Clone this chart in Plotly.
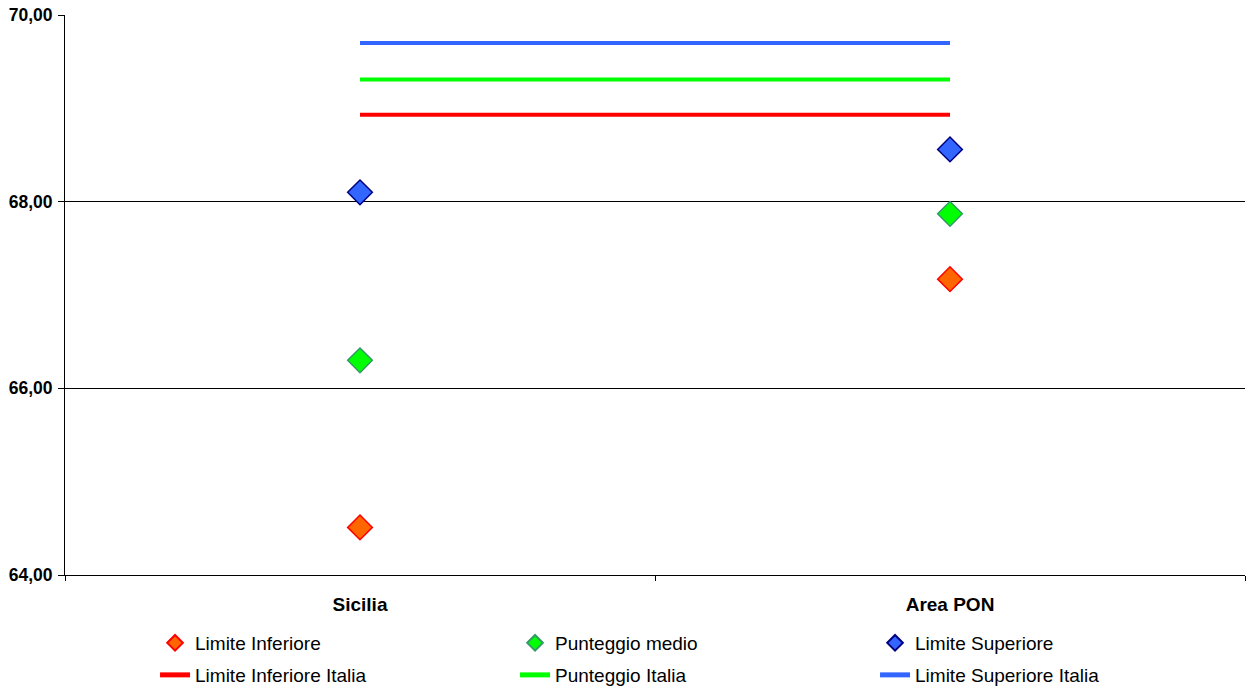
import plotly.graph_objects as go

categories = ["Sicilia", "Area PON"]
limite_inferiore = [64.51, 67.17]
punteggio_medio = [66.30, 67.87]
limite_superiore = [68.10, 68.56]
limite_inferiore_italia = [68.93, 68.93]
punteggio_italia = [69.31, 69.31]
limite_superiore_italia = [69.70, 69.70]
y_ticks = [64, 66, 68, 70]

FONT = "Liberation Sans, Arial, sans-serif"

fig = go.Figure()

def pts(name, vals, fill, border):
    fig.add_trace(go.Scatter(
        x=categories, y=vals, name=name, mode="markers", legend="legend",
        marker=dict(symbol="diamond", size=19, color=fill,
                    line=dict(color=border, width=1.5)),
    ))

def hline(name, vals, color):
    fig.add_trace(go.Scatter(
        x=categories, y=vals, name=name, mode="lines", legend="legend2",
        line=dict(color=color, width=4),
    ))

pts("Limite Inferiore", limite_inferiore, "#FF6600", "#FF0000")
pts("Punteggio medio", punteggio_medio, "#00FF00", "#339966")
pts("Limite Superiore", limite_superiore, "#3366FF", "#000080")
hline("Limite Inferiore Italia", limite_inferiore_italia, "#FF0000")
hline("Punteggio Italia", punteggio_italia, "#00FF00")
hline("Limite Superiore Italia", limite_superiore_italia, "#3366FF")

leg_common = dict(
    orientation="h", x=0.0763, xanchor="left", yanchor="middle",
    entrywidth=315, entrywidthmode="pixels",
    itemsizing="constant", font=dict(size=19, family=FONT, color="black"),
    bgcolor="rgba(0,0,0,0)", traceorder="normal",
)

fig.update_layout(
    width=1247, height=688,
    margin=dict(l=65, r=2, t=15, b=113, autoexpand=False),
    paper_bgcolor="white", plot_bgcolor="white",
    separators=",.",
    font=dict(family=FONT, color="black", size=19),
    showlegend=True,
    legend=dict(leg_common, y=-0.1214),
    legend2=dict(leg_common, y=-0.1786),
    xaxis=dict(
        type="category", range=[-0.5, 1.5], showgrid=False,
        showline=True, linecolor="black", linewidth=1,
        ticks="outside", tickson="boundaries", ticklen=5, tickcolor="black",
        tickfont=dict(family=FONT, size=19, color="black", weight="bold"),
        ticklabelstandoff=12, zeroline=False, automargin=False,
    ),
    yaxis=dict(
        range=[64, 70.0001], tickvals=y_ticks, tickformat=".2f",
        showgrid=True, gridcolor="black", gridwidth=1,
        showline=True, linecolor="black", linewidth=1,
        ticks="outside", ticklen=6, tickcolor="black",
        tickfont=dict(family=FONT, size=17.5, color="black", weight="bold"),
        ticklabelstandoff=2, ticklabeloverflow="allow",
        zeroline=False, automargin=False,
    ),
)

fig.write_html(
    "out.html",
    config={"displayModeBar": False},
    post_script="document.body.style.margin='0';document.body.style.padding='0';"
                "document.body.style.overflow='hidden';",
)
